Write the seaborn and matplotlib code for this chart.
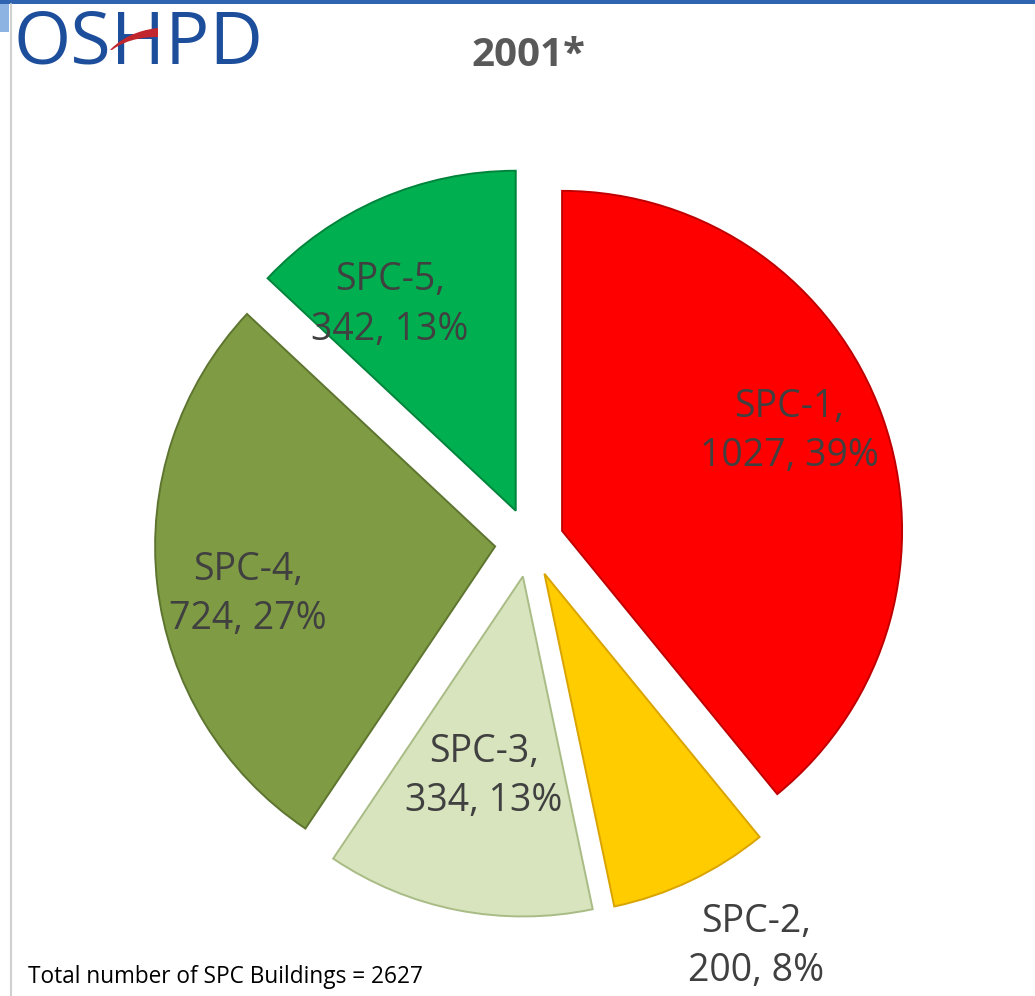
import seaborn as sns
import matplotlib.pyplot as plt
import matplotlib.patches as mpatches
from matplotlib.path import Path
import numpy as np

# -----------------------------------------------------------------------------
# Data: SPC building counts, 2001
# -----------------------------------------------------------------------------
categories = ["SPC-1", "SPC-2", "SPC-3", "SPC-4", "SPC-5"]
counts = [1027, 200, 334, 724, 342]
percent_labels = [39, 8, 13, 27, 13]
slice_colors = ["#FF0000", "#FFCC00", "#D7E4BD", "#7F9C44", "#00B050"]
edge_colors = ["#C00000", "#D9A400", "#A9BC86", "#5E7530", "#00843C"]

total = sum(counts)

# -----------------------------------------------------------------------------
# Styling
# -----------------------------------------------------------------------------
sns.set_theme(style="white")
plt.rcParams["font.family"] = ["Open Sans", "DejaVu Sans"]
palette = sns.color_palette(slice_colors)

W, H = 1035, 996
fig = plt.figure(figsize=(W / 100, H / 100), dpi=100)
ax = fig.add_axes([0, 0, 1, 1])

# pie geometry (data units = pixels, y up)
cx, cy = 529.5, H - 542.5
radius = 340
gap = 34.6

wedges, _ = ax.pie(
    counts,
    colors=palette,
    startangle=90,
    counterclock=False,
    center=(cx, cy),
    radius=radius,
    explode=[gap] * len(counts),
    wedgeprops=dict(linewidth=1.4),
)
for w, ec in zip(wedges, edge_colors):
    w.set_edgecolor(ec)

# label placement (fraction of radius from slice apex, angle nudge)
label_dist = [0.73, 1.26, 0.60, 0.74, 0.71]
label_nudge = [4, 4, 0, 4.5, 8]
for w, name, val, pct, d, nd in zip(wedges, categories, counts,
                                     percent_labels, label_dist, label_nudge):
    mid = np.deg2rad(0.5 * (w.theta1 + w.theta2) + nd)
    x0, y0 = w.center
    ax.text(x0 + d * radius * np.cos(mid), y0 + d * radius * np.sin(mid),
            f"{name},\n{val}, {pct}%", ha="center", va="center",
            fontsize=27, color="#404040", linespacing=1.4)

ax.set_xlim(0, W)
ax.set_ylim(0, H)
ax.set_aspect("auto")
ax.axis("off")

# title and footer
fig.text(528 / W, 1 - 55 / H, "2001*", ha="center", va="center",
         fontsize=29, fontweight="bold", color="#595959")
fig.text(28 / W, 1 - 977 / H, f"Total number of SPC Buildings = {total}",
         ha="left", va="center", fontsize=16.3, color="#000000")

# slide frame
fig.add_artist(mpatches.Rectangle((0, 1 - 4 / H), 1, 4 / H,
                                  transform=fig.transFigure,
                                  color="#2F64B0", lw=0))
fig.add_artist(mpatches.Rectangle((0, 1 - 32 / H), 9 / W, 28 / H,
                                  transform=fig.transFigure,
                                  color="#8DB3E2", lw=0))
fig.add_artist(plt.Line2D([10.5 / W, 10.5 / W], [0, 1 - 4 / H],
                          transform=fig.transFigure,
                          color="#D0D0D0", lw=1.5))

# OSHPD logo
fig.text(13 / W, 1 - 44 / H, "OSHPD", ha="left", va="center",
         fontsize=53, color="#1D4E9B", zorder=3)
verts = [(110, 50), (126, 33), (148, 29), (158, 28),
         (158, 37), (148, 37), (128, 38), (112, 50)]
verts = [(x / W, 1 - y / H) for x, y in verts]
codes = [Path.MOVETO, Path.CURVE4, Path.CURVE4, Path.CURVE4,
         Path.LINETO, Path.CURVE4, Path.CURVE4, Path.CURVE4]
fig.add_artist(mpatches.PathPatch(Path(verts, codes), transform=fig.transFigure,
                                  facecolor="#C1272D", edgecolor="none",
                                  zorder=5))

fig.savefig("out.png", dpi=100)
plt.close(fig)
